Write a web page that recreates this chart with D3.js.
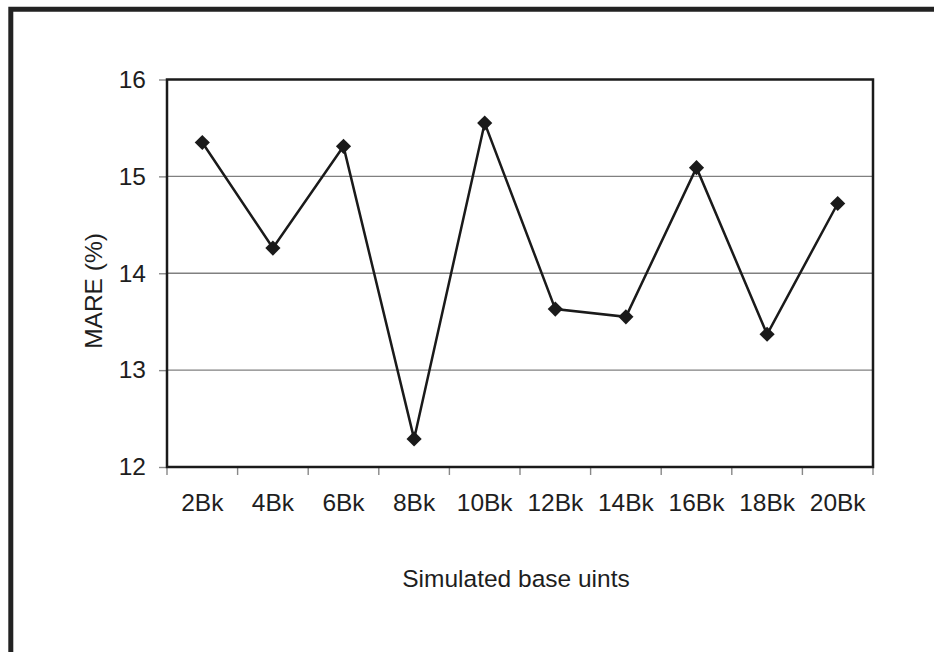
<!DOCTYPE html>
<html>
<head>
<meta charset="utf-8">
<script src="https://cdn.jsdelivr.net/npm/d3@7"></script>
<style>
    body { margin: 0; background: #fff; }
    text { font-family: "Liberation Sans", Arial, sans-serif; fill: #1e1e1e; }
</style>
</head>
<body>
<svg class="chart"></svg>
<script>
// data
var categories = ['2Bk', '4Bk', '6Bk', '8Bk', '10Bk', '12Bk', '14Bk', '16Bk', '18Bk', '20Bk'];
var mare = [15.35, 14.26, 15.31, 12.29, 15.55, 13.63, 13.55, 15.09, 13.37, 14.72];
var yTicks = [12, 13, 14, 15, 16];

function show() {

    'use strict';

    var data = categories.map(function(c, i) { return {cat: c, value: mare[i]}; });

    // Generic setup
    var margin = {top: 79.5, bottom: 185, right: 61, left: 167},
        width = 934 - margin.left - margin.right,
        height = 652 - margin.top - margin.bottom;

    var svg = d3.select(".chart")
        .attr("width", 934)
        .attr("height", 652);

    // outer frame (cut off at right and bottom)
    svg.append("path")
        .attr("d", "M10.8,660 V9.2 H940")
        .attr("fill", "none")
        .attr("stroke", "#222")
        .attr("stroke-width", 5);

    var chart = svg.append("g")
        .attr("transform", "translate(" + margin.left + "," + margin.top + ")");

    var scaleX = d3.scaleBand()
        .domain(categories)
        .range([0, width])
        .padding(0);

    var scaleY = d3.scaleLinear().domain([12, 16]).range([height, 0]);

    // gridlines
    chart.append("g").selectAll("line")
        .data(yTicks.slice(1, -1))
        .enter().append("line")
        .attr("x1", 0).attr("x2", width)
        .attr("y1", function(d) { return scaleY(d); })
        .attr("y2", function(d) { return scaleY(d); })
        .attr("stroke", "#808080")
        .attr("stroke-width", 1.4);

    // left axis
    var leftAxis = d3.axisLeft().scale(scaleY).tickValues(yTicks)
        .tickFormat(d3.format("d")).tickSize(8).tickPadding(13);
    var leftAxisG = chart.append("g").call(leftAxis);
    leftAxisG.select(".domain").remove();
    leftAxisG.selectAll(".tick line").attr("stroke", "#888").attr("stroke-width", 1.4);
    leftAxisG.selectAll(".tick text")
        .style("font-size", "24.5px")
        .style("font-family", "'Liberation Sans', Arial, sans-serif")
        .attr("fill", "#1e1e1e");

    // bottom axis: ticks between the categories
    var boundaries = categories.map(function(c) { return scaleX(c); }).concat([width]);
    chart.append("g").selectAll("line")
        .data(boundaries)
        .enter().append("line")
        .attr("x1", function(d) { return d; })
        .attr("x2", function(d) { return d; })
        .attr("y1", height).attr("y2", height + 8)
        .attr("stroke", "#888")
        .attr("stroke-width", 1.4);

    chart.append("g").selectAll("text")
        .data(categories)
        .enter().append("text")
        .attr("x", function(d) { return scaleX(d) + scaleX.bandwidth() / 2; })
        .attr("y", height + 44)
        .attr("text-anchor", "middle")
        .style("font-size", "24.5px")
        .text(function(d) { return d; });

    // plot area border
    chart.append("rect")
        .attr("width", width)
        .attr("height", height)
        .attr("fill", "none")
        .attr("stroke", "#1a1a1a")
        .attr("stroke-width", 2.5);

    // the series
    var line = d3.line()
        .x(function(d) { return scaleX(d.cat) + scaleX.bandwidth() / 2; })
        .y(function(d) { return scaleY(d.value); });

    chart.append("path")
        .datum(data)
        .attr("d", line)
        .attr("fill", "none")
        .attr("stroke", "#1a1a1a")
        .attr("stroke-width", 2.5);

    var diamond = d3.symbol().type(d3.symbolSquare).size(115);
    chart.append("g").selectAll("path")
        .data(data)
        .enter().append("path")
        .attr("d", diamond)
        .attr("fill", "#1a1a1a")
        .attr("transform", function(d) {
            return "translate(" + (scaleX(d.cat) + scaleX.bandwidth() / 2) + "," + scaleY(d.value) + ") rotate(45)";
        });

    // axis titles
    chart.append("text")
        .attr("x", width / 2 - 4)
        .attr("y", height + 120)
        .attr("text-anchor", "middle")
        .style("font-size", "24.5px")
        .text("Simulated base uints");

    chart.append("text")
        .attr("transform", "translate(" + (102 - margin.left) + "," + (291 - margin.top) + ") rotate(-90)")
        .attr("text-anchor", "middle")
        .style("font-size", "24.5px")
        .text("MARE (%)");
}

show();
</script>
</body>
</html>
